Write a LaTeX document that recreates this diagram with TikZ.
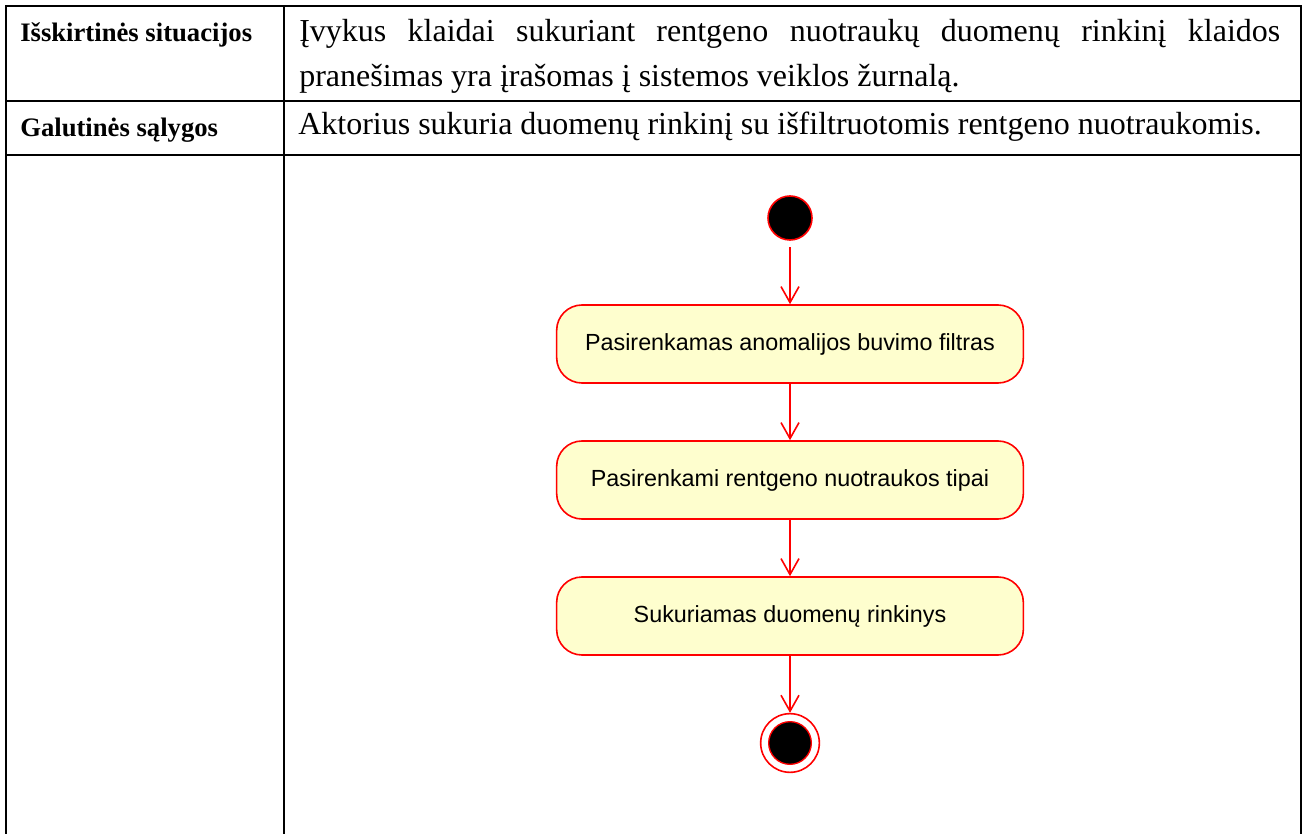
\documentclass[tikz,border=0pt]{standalone}
\usepackage{fontspec}
\setmainfont{Liberation Serif}
\newfontfamily\diagfont{Liberation Sans}
\usetikzlibrary{arrows.meta}
\begin{document}
\begin{tikzpicture}[x=0.75pt,y=-0.75pt,
  grid/.style={draw=black,line width=1pt},
  lbl/.style={anchor=base west,inner sep=0pt,font=\fontsize{20}{24}\selectfont\bfseries},
  txt/.style={anchor=base west,inner sep=0pt,font=\fontsize{24}{33.75}\selectfont},
  act/.style={draw=red,line width=1.2pt,fill={rgb,255:red,254;green,254;blue,206},rounded corners=19pt,minimum width=350pt,minimum height=58.5pt,inner sep=0pt,font=\diagfont\fontsize{17.5}{21}\selectfont},
  flow/.style={draw=red,line width=1.2pt,-{Straight Barb[length=12pt,width=13.5pt,line width=1.2pt]}},
  startnode/.style={circle,draw=red,line width=1.2pt,fill=black,minimum size=33pt,inner sep=0pt},
]
\useasboundingbox (0,0) rectangle (1307,834);
% table
\draw[grid] (6,834) -- (6,6) -- (1301,6) -- (1301,834);
\draw[grid] (6,101) -- (1301,101);
\draw[grid] (6,155) -- (1301,155);
\draw[grid] (284,6) -- (284,834);
\node[lbl] (l1) at (20,42) {Išskirtinės situacijos};
\node[lbl] (l2) at (20,137) {Galutinės sąlygos};
\node[txt] (t1) at (299,42) {\parbox[t]{735.75pt}{\fontsize{24}{33.75}\selectfont Įvykus klaidai sukuriant rentgeno nuotraukų duomenų rinkinį klaidos\linebreak pranešimas yra įrašomas į sistemos veiklos žurnalą.}};
\node[txt] (t2) at (298,135) {Aktorius sukuria duomenų rinkinį su išfiltruotomis rentgeno nuotraukomis.};
% activity diagram
\node[startnode] (s) at (790,218) {};
\node[act] (a1) at (790,344) {Pasirenkamas anomalijos buvimo filtras};
\node[act] (a2) at (790,480) {Pasirenkami rentgeno nuotraukos tipai};
\node[act] (a3) at (790,616) {Sukuriamas duomenų rinkinys};
\node[circle,draw=red,line width=1.2pt,fill=white,minimum size=44pt,inner sep=0pt] (e) at (790,743) {};
\node[circle,draw=red,line width=1pt,fill=black,minimum size=32pt,inner sep=0pt] (ei) at (e) {};
\draw[flow] ([yshift=-5pt]s.south) -- (a1.north);
\draw[flow] (a1) -- (a2);
\draw[flow] (a2) -- (a3);
\draw[flow] (a3) -- (e);
\end{tikzpicture}
\end{document}
